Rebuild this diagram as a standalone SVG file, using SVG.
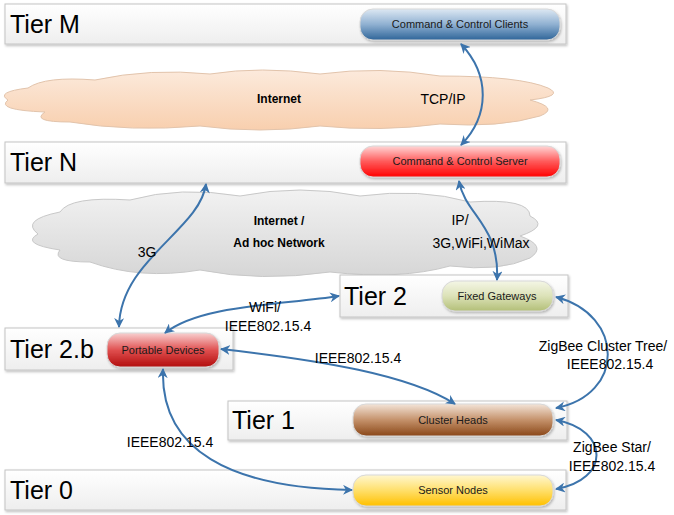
<svg xmlns="http://www.w3.org/2000/svg" width="674" height="515" viewBox="0 0 674 515">
<defs>
<style>
.tier{fill:url(#gTier);stroke:#C4C4C4;stroke-width:1}
.tl{font-family:"Liberation Sans",Arial,sans-serif;font-size:25px;fill:#000}
.nt{font-family:"Liberation Sans",Arial,sans-serif;font-size:11px;fill:#1a1a1a;text-anchor:middle}
.lb{font-family:"Liberation Sans",Arial,sans-serif;font-size:14px;fill:#000;text-anchor:middle}
.cl{font-family:"Liberation Sans",Arial,sans-serif;font-size:12px;font-weight:bold;fill:#000;text-anchor:middle}
.node{stroke:#D8D8D8;stroke-width:1}
.con{fill:none;stroke:#3C74AC;stroke-width:2;marker-start:url(#ah);marker-end:url(#ah)}
</style>
<marker id="ah" viewBox="0 0 10 10" refX="9" refY="5" markerWidth="5" markerHeight="5" orient="auto-start-reverse" markerUnits="strokeWidth">
<path d="M0,0 L10,5 L0,10 L3,5 Z" fill="#3C74AC"/>
</marker>
<filter id="sh" x="-5%" y="-20%" width="110%" height="150%">
<feDropShadow dx="1" dy="1.5" stdDeviation="1.2" flood-color="#000" flood-opacity="0.25"/>
</filter>
<linearGradient id="gTier" x1="0" y1="0" x2="0" y2="1"><stop offset="0" stop-color="#FFFFFF"/><stop offset="1" stop-color="#EEEEEE"/></linearGradient>
<linearGradient id="gC1" x1="0" y1="0" x2="0" y2="1"><stop offset="0" stop-color="#FCEADC"/><stop offset="1" stop-color="#F8CFAE"/></linearGradient>
<linearGradient id="gC2" x1="0" y1="0" x2="0" y2="1"><stop offset="0" stop-color="#F2F2F2"/><stop offset="1" stop-color="#D6D6D6"/></linearGradient>
<linearGradient id="gBlue" x1="0" y1="0" x2="0" y2="1"><stop offset="0" stop-color="#DDE8F3"/><stop offset="0.5" stop-color="#8FB0D1"/><stop offset="1" stop-color="#2F6599"/></linearGradient>
<linearGradient id="gRed" x1="0" y1="0" x2="0" y2="1"><stop offset="0" stop-color="#FFD6D6"/><stop offset="0.5" stop-color="#FF5A5A"/><stop offset="1" stop-color="#FF0000"/></linearGradient>
<linearGradient id="gGreen" x1="0" y1="0" x2="0" y2="1"><stop offset="0" stop-color="#F4F6E6"/><stop offset="0.5" stop-color="#DCE2B8"/><stop offset="1" stop-color="#B3BF78"/></linearGradient>
<linearGradient id="gDRed" x1="0" y1="0" x2="0" y2="1"><stop offset="0" stop-color="#F8D0D0"/><stop offset="0.5" stop-color="#E05050"/><stop offset="1" stop-color="#B20C0C"/></linearGradient>
<linearGradient id="gBrown" x1="0" y1="0" x2="0" y2="1"><stop offset="0" stop-color="#F3E4D8"/><stop offset="0.5" stop-color="#C4916A"/><stop offset="1" stop-color="#8A4718"/></linearGradient>
<linearGradient id="gYel" x1="0" y1="0" x2="0" y2="1"><stop offset="0" stop-color="#FFF7D0"/><stop offset="0.5" stop-color="#FFDF6A"/><stop offset="1" stop-color="#FFC000"/></linearGradient>
</defs>

<g id="cloud-internet">
<path d="M28,88 Q45,76 95,80 Q150,68 210,74 Q260,66 320,74 Q380,66 440,76 Q520,76 548,88 Q565,96 530,100 Q560,108 540,116 Q500,128 440,124 Q380,132 320,126 Q260,134 200,126 Q130,132 70,122 Q30,122 45,112 Q-5,110 8,100 Q-5,92 28,88 Z" fill="url(#gC1)" stroke="#E2C4AC" stroke-width="1"/>
<text class="cl" x="279" y="103">Internet</text>
</g>
<g id="cloud-adhoc">
<path d="M60,212 Q70,196 130,200 Q180,186 240,196 Q300,184 360,196 Q420,188 470,202 Q530,198 530,216 Q550,226 520,236 Q548,246 530,258 Q500,272 450,266 Q400,280 330,272 Q260,282 200,270 Q140,280 90,262 Q50,262 60,250 Q20,244 38,234 Q20,220 60,212 Z" fill="url(#gC2)" stroke="#C8C8C8" stroke-width="1"/>
<text class="cl" x="279" y="225">Internet /</text>
<text class="cl" x="279" y="247">Ad hoc Network</text>
</g>

<g id="tierM">
<rect class="tier" x="5" y="4" width="561" height="40" filter="url(#sh)"/>
<text class="tl" x="10" y="33">Tier M</text>
</g>
<g id="clients">
<rect class="node" x="360" y="9" width="200" height="31" rx="13" fill="url(#gBlue)" filter="url(#sh)"/>
<text class="nt" x="460" y="28">Command &amp; Control Clients</text>
</g>
<g id="tierN">
<rect class="tier" x="5" y="142" width="561" height="41" filter="url(#sh)"/>
<text class="tl" x="10" y="171">Tier N</text>
</g>
<g id="server">
<rect class="node" x="360" y="146" width="200" height="31" rx="13" fill="url(#gRed)" filter="url(#sh)"/>
<text class="nt" x="460" y="165">Command &amp; Control Server</text>
</g>
<g id="tier2">
<rect class="tier" x="340" y="275" width="228" height="42" filter="url(#sh)"/>
<text class="tl" x="344" y="305">Tier 2</text>
</g>
<g id="gateways">
<rect class="node" x="442" y="281" width="111" height="30" rx="13" fill="url(#gGreen)" filter="url(#sh)"/>
<text class="nt" x="497" y="300">Fixed Gateways</text>
</g>
<g id="tier2b">
<rect class="tier" x="5" y="328" width="228" height="42" filter="url(#sh)"/>
<text class="tl" x="10" y="358">Tier 2.b</text>
</g>
<g id="portable">
<rect class="node" x="107" y="333" width="112" height="34" rx="13" fill="url(#gDRed)" filter="url(#sh)"/>
<text class="nt" x="163" y="354">Portable Devices</text>
</g>
<g id="tier1">
<rect class="tier" x="228" y="401" width="339" height="39" filter="url(#sh)"/>
<text class="tl" x="232" y="429">Tier 1</text>
</g>
<g id="clusterheads">
<rect class="node" x="353" y="404" width="200" height="32" rx="13" fill="url(#gBrown)" filter="url(#sh)"/>
<text class="nt" x="453" y="424">Cluster Heads</text>
</g>
<g id="tier0">
<rect class="tier" x="5" y="470" width="561" height="40" filter="url(#sh)"/>
<text class="tl" x="10" y="499">Tier 0</text>
</g>
<g id="sensors">
<rect class="node" x="353" y="475" width="200" height="31" rx="13" fill="url(#gYel)" filter="url(#sh)"/>
<text class="nt" x="453" y="494">Sensor Nodes</text>
</g>

<g id="connectors">
<path class="con" d="M461,44 C490,75 490,115 461,145"/>
<path class="con" d="M206,184 C200,230 120,260 119,327"/>
<path class="con" d="M459,181 C465,215 500,225 497,280"/>
<path class="con" d="M165,333 C200,305 280,305 339,296"/>
<path class="con" d="M221,349 C320,360 410,375 455,404"/>
<path class="con" d="M556,297 C625,315 625,395 556,408"/>
<path class="con" d="M556,420 C610,430 610,480 556,489"/>
<path class="con" d="M163,369 C160,450 230,488 352,490"/>
</g>

<g id="labels">
<text class="lb" x="443" y="104">TCP/IP</text>
<text class="lb" x="147" y="257">3G</text>
<text class="lb" x="460" y="225">IP/</text>
<text class="lb" x="481" y="248">3G,WiFi,WiMax</text>
<text class="lb" x="265" y="312">WiFi/</text>
<text class="lb" x="268" y="331">IEEE802.15.4</text>
<text class="lb" x="358" y="363">IEEE802.15.4</text>
<text class="lb" x="603" y="351">ZigBee Cluster Tree/</text>
<text class="lb" x="610" y="369">IEEE802.15.4</text>
<text class="lb" x="612" y="452">ZigBee Star/</text>
<text class="lb" x="612" y="471">IEEE802.15.4</text>
<text class="lb" x="170" y="447">IEEE802.15.4</text>
</g>
</svg>
